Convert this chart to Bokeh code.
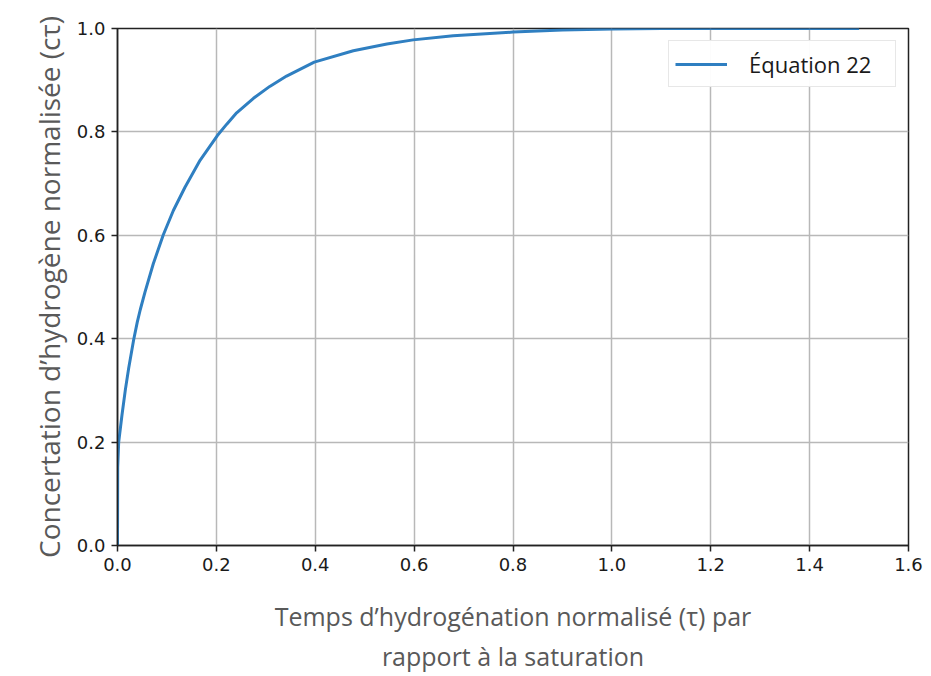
from bokeh.plotting import figure
from bokeh.models import Range1d, FixedTicker, Legend, LegendItem, CustomJSTickFormatter
from bokeh.embed import file_html
from bokeh.resources import INLINE

# values
tau = [0, 0.0004, 0.0024, 0.009, 0.016, 0.0226, 0.0327, 0.040, 0.046, 0.0556, 0.0724,
       0.0927, 0.113, 0.1365, 0.167, 0.202, 0.221, 0.241, 0.275, 0.308, 0.342, 0.398,
       0.477, 0.545, 0.598, 0.679, 0.80, 0.9, 1.0, 1.1, 1.2, 1.35, 1.5]
conc = [0, 0.151, 0.2, 0.252, 0.302, 0.343, 0.398, 0.432, 0.456, 0.49, 0.545,
        0.601, 0.648, 0.693, 0.745, 0.793, 0.815, 0.837, 0.865, 0.888, 0.908, 0.935,
        0.957, 0.970, 0.978, 0.986, 0.993, 0.997, 0.999, 1.0, 1.0, 1.0, 1.0]
x_ticks = [0.0, 0.2, 0.4, 0.6, 0.8, 1.0, 1.2, 1.4, 1.6]
y_ticks = [0.0, 0.2, 0.4, 0.6, 0.8, 1.0]
series_label = "Équation 22"
x_title = "Temps d’hydrogénation normalisé (τ) par\nrapport à la saturation"
y_title = "Concertation d’hydrogène normalisée (cτ)"

p = figure(width=923, height=676, output_backend="svg", toolbar_location=None,
           x_range=Range1d(0, 1.6), y_range=Range1d(0, 1.0),
           min_border_left=117, min_border_right=15, min_border_top=28, min_border_bottom=126)

p.outline_line_color = "#222222"
p.outline_line_width = 1.5
p.background_fill_color = "white"
p.border_fill_color = "white"

r = p.line(tau, conc, line_color="#2f7fc1", line_width=3)

for ax, ticks in ((p.xaxis[0], x_ticks), (p.yaxis[0], y_ticks)):
    ax.ticker = FixedTicker(ticks=ticks)
    ax.formatter = CustomJSTickFormatter(code="return tick.toFixed(1);")
    ax.minor_tick_line_color = None
    ax.major_tick_out = 6
    ax.major_tick_in = 0
    ax.major_tick_line_color = "#222222"
    ax.major_tick_line_width = 1.5
    ax.axis_line_color = "#222222"
    ax.axis_line_width = 1.5
    ax.major_label_text_font = "DejaVu Sans"
    ax.major_label_text_font_size = "18px"
    ax.major_label_text_color = "#1a1a1a"
    ax.axis_label_text_font = "Open Sans"
    ax.axis_label_text_font_style = "normal"
    ax.axis_label_text_color = "#595959"

p.xaxis[0].axis_label = x_title
p.xaxis[0].axis_label_text_font_size = "25px"
p.xaxis[0].axis_label_standoff = 25
p.xaxis[0].major_label_standoff = 6
p.yaxis[0].axis_label = y_title
p.yaxis[0].axis_label_text_font_size = "28px"
p.yaxis[0].axis_label_standoff = 6
p.yaxis[0].major_label_standoff = 6

p.xgrid.grid_line_color = "#b8b8b8"
p.ygrid.grid_line_color = "#b8b8b8"
p.xgrid.grid_line_width = 1.5
p.ygrid.grid_line_width = 1.5

legend = Legend(items=[LegendItem(label=series_label, renderers=[r])],
                location="top_right")
legend.label_text_font = "Open Sans"
legend.label_text_font_size = "22px"
legend.label_text_color = "#1a1a1a"
legend.glyph_width = 52
legend.label_standoff = 22
legend.label_width = 140
legend.label_height = 33
legend.border_line_color = "#d0d0d0"
legend.border_line_width = 1.5
legend.margin = 12
legend.padding = 6
legend.spacing = 0
p.add_layout(legend)

html = file_html(p, INLINE)
open("out.html", "w").write(html)
